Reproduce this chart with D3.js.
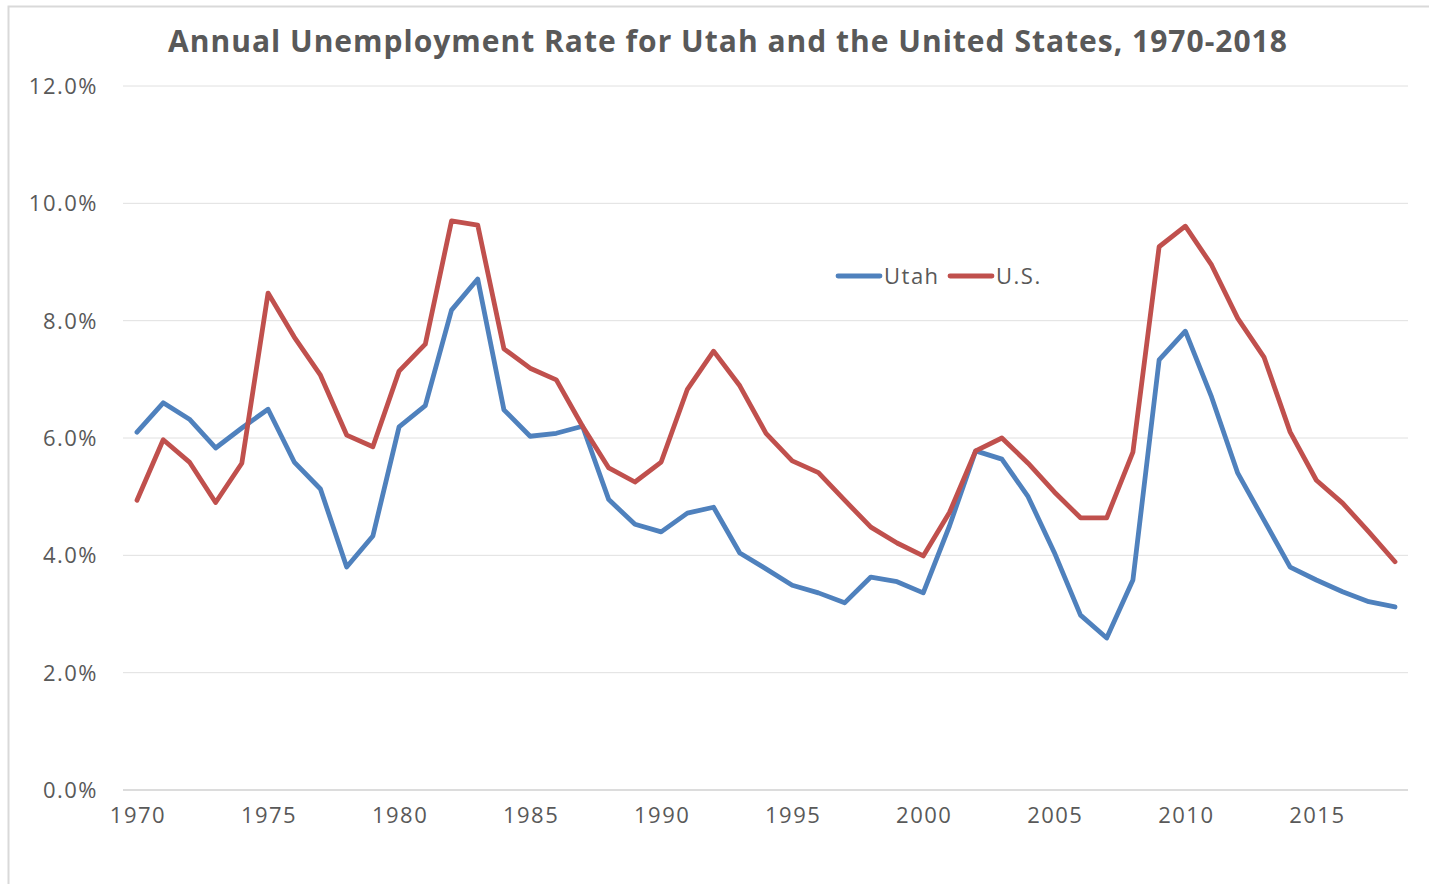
<!DOCTYPE html>
<html>
<head>
<meta charset="utf-8">
<script src="https://cdn.jsdelivr.net/npm/d3@7"></script>
<style>
  body { margin: 0; background: #fff; }
  text { font-family: "Open Sans", "Noto Sans", sans-serif; fill: #595959; }
</style>
</head>
<body>
<div id="chart"></div>
<script>
// data (percent)
var years = d3.range(1970, 2019);
var utah = [6.10, 6.60, 6.32, 5.83, 6.17, 6.49, 5.59, 5.13, 3.80, 4.33,
            6.19, 6.55, 8.18, 8.71, 6.48, 6.03, 6.08, 6.20, 4.95, 4.53,
            4.40, 4.72, 4.82, 4.04, 3.77, 3.49, 3.36, 3.19, 3.63, 3.55,
            3.36, 4.50, 5.78, 5.64, 5.00, 4.05, 2.98, 2.59, 3.58, 7.33,
            7.82, 6.70, 5.40, 4.60, 3.80, 3.58, 3.38, 3.21, 3.12];
var us = [4.94, 5.97, 5.59, 4.90, 5.57, 8.47, 7.72, 7.07, 6.05, 5.85,
          7.14, 7.60, 9.70, 9.63, 7.52, 7.19, 6.99, 6.20, 5.49, 5.25,
          5.59, 6.83, 7.48, 6.89, 6.08, 5.61, 5.41, 4.94, 4.48, 4.21,
          3.99, 4.73, 5.78, 6.00, 5.57, 5.08, 4.64, 4.64, 5.76, 9.26,
          9.61, 8.95, 8.04, 7.38, 6.10, 5.28, 4.89, 4.40, 3.89];
var yTicks = [0, 2, 4, 6, 8, 10, 12];
var xTicks = [1970, 1975, 1980, 1985, 1990, 1995, 2000, 2005, 2010, 2015];
var seriesNames = ["Utah", "U.S."];
var seriesColors = ["#4F81BD", "#C0504D"];

var width = 1429, height = 884;
var svg = d3.select("#chart").append("svg")
    .attr("width", width)
    .attr("height", height);

// outer chart border
svg.append("rect")
    .attr("x", 8.5).attr("y", 6.5)
    .attr("width", 1440).attr("height", 900)
    .attr("fill", "none")
    .attr("stroke", "#d9d9d9")
    .attr("stroke-width", 2);

var x = d3.scaleLinear().domain([1970, 2018]).range([137, 1395]);
var y = d3.scaleLinear().domain([0, 12]).range([790, 86]);

// gridlines
svg.append("g").selectAll("line")
    .data(yTicks)
    .enter().append("line")
    .attr("x1", 123).attr("x2", 1408)
    .attr("y1", function(d) { return y(d); })
    .attr("y2", function(d) { return y(d); })
    .attr("stroke", function(d) { return d == 0 ? "#d0d0d0" : "#e0e0e0"; })
    .attr("stroke-width", function(d) { return d == 0 ? 1.5 : 1; });

// y labels
svg.append("g").selectAll("text")
    .data(yTicks)
    .enter().append("text")
    .attr("x", 98)
    .attr("y", function(d) { return y(d) + 8; })
    .attr("text-anchor", "end")
    .style("font-size", "22px")
    .style("letter-spacing", "1.5px")
    .text(function(d) { return d.toFixed(1) + "%"; });

// x labels
svg.append("g").selectAll("text")
    .data(xTicks)
    .enter().append("text")
    .attr("x", function(d) { return x(d) + 1; })
    .attr("y", 823)
    .attr("text-anchor", "middle")
    .style("font-size", "22px")
    .style("letter-spacing", "1.5px")
    .text(function(d) { return d; });

// lines
var line = d3.line()
    .x(function(d, i) { return x(years[i]); })
    .y(function(d) { return y(d); });

[utah, us].forEach(function(s, i) {
    svg.append("path")
        .datum(s)
        .attr("d", line)
        .attr("fill", "none")
        .attr("stroke", seriesColors[i])
        .attr("stroke-width", 4.8)
        .attr("stroke-linejoin", "round")
        .attr("stroke-linecap", "round");
});

// legend
var legendX = [838, 950];
seriesNames.forEach(function(name, i) {
    svg.append("line")
        .attr("x1", legendX[i]).attr("x2", legendX[i] + 42)
        .attr("y1", 276).attr("y2", 276)
        .attr("stroke", seriesColors[i])
        .attr("stroke-width", 4.8)
        .attr("stroke-linecap", "round");
    svg.append("text")
        .attr("x", legendX[i] + 46)
        .attr("y", 284)
        .style("font-size", "22px")
        .style("letter-spacing", "1.5px")
        .text(name);
});

// title
svg.append("text")
    .attr("x", 728)
    .attr("y", 52)
    .attr("text-anchor", "middle")
    .style("font-size", "30px")
    .style("font-weight", "bold")
    .style("letter-spacing", "1px")
    .text("Annual Unemployment Rate for Utah and the United States, 1970-2018");
</script>
</body>
</html>
